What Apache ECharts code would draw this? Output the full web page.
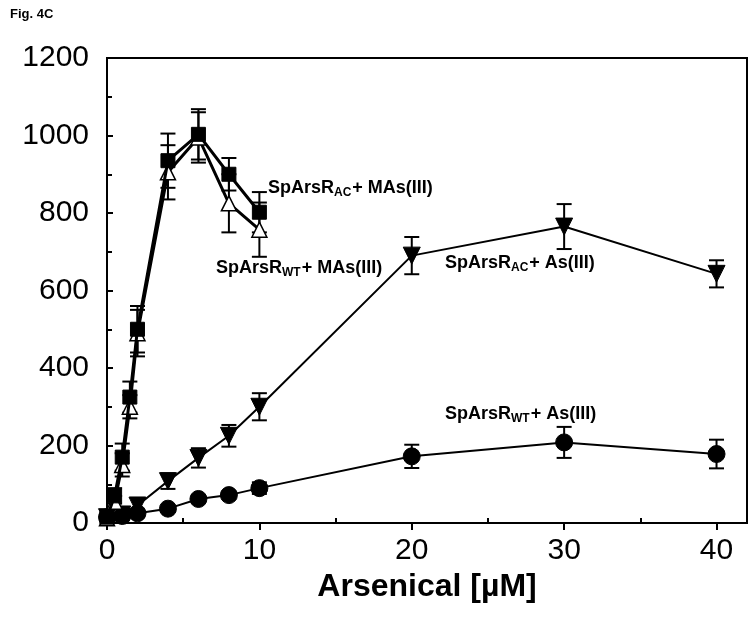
<!DOCTYPE html>
<html>
<head>
<meta charset="utf-8">
<script src="https://cdn.jsdelivr.net/npm/echarts@6/dist/echarts.min.js"></script>
<style>
html,body{margin:0;padding:0;background:#fff;}
#c{width:754px;height:631px;}
</style>
</head>
<body>
<div id="c"></div>
<script>
// ---- data ----
const xMAs = [0, 0.5, 1, 1.5, 2, 4, 6, 8, 10];
const acMAs = [15, 70, 170, 325, 500, 935, 1003, 900, 802];
const acMAsErr = [10, 20, 35, 40, 60, 70, 65, 42, 52];
const wtMAs = [12, 55, 150, 300, 490, 905, 995, 825, 757];
const wtMAsErr = [10, 15, 30, 30, 60, 70, 65, 75, 70];

const xAs = [0, 1, 2, 4, 6, 8, 10, 20, 30, 40];
const acAs = [15, 22, 45, 108, 168, 225, 300, 690, 765, 643];
const acAsErr = [10, 15, 20, 20, 25, 28, 35, 48, 58, 35];
const wtAs = [15, 18, 25, 37, 62, 72, 90, 172, 208, 178];
const wtAsErr = [8, 10, 10, 8, 10, 10, 15, 30, 40, 37];

const xTicks = [0, 10, 20, 30, 40];
const xMinorTicks = [5, 15, 25, 35];

const labelAcMAs = ['SpArsR', 'AC', '+ MAs(III)'];
const labelWtMAs = ['SpArsR', 'WT', '+ MAs(III)'];
const labelAcAs = ['SpArsR', 'AC', '+ As(III)'];
const labelWtAs = ['SpArsR', 'WT', '+ As(III)'];

// ---- helpers ----
function pts(xs, ys) { return xs.map((x, i) => [x, ys[i]]); }
function errPts(xs, ys, es) { return xs.map((x, i) => [x, ys[i], es[i]]); }

function errRender(params, api) {
  const x = api.value(0), y = api.value(1), e = api.value(2);
  const p = api.coord([x, y + e]);
  const q = api.coord([x, y - e]);
  const hw = 7.5;
  const st = { stroke: '#000', lineWidth: 2 };
  return {
    type: 'group',
    children: [
      { type: 'line', shape: { x1: p[0], y1: p[1], x2: q[0], y2: q[1] }, style: st },
      { type: 'line', shape: { x1: p[0] - hw, y1: p[1], x2: p[0] + hw, y2: p[1] }, style: st },
      { type: 'line', shape: { x1: q[0] - hw, y1: q[1], x2: q[0] + hw, y2: q[1] }, style: st }
    ]
  };
}

function errSeries(xs, ys, es) {
  return {
    type: 'custom', renderItem: errRender, data: errPts(xs, ys, es),
    z: 1, silent: true, clip: false,
    encode: { x: 0, y: 1 }
  };
}

const font = 'Liberation Sans, Arial, sans-serif';
const rich = {
  b: { fontSize: 18, fontWeight: 'bold', fontFamily: font, fill: '#000', lineHeight: 22 },
  s: { fontSize: 12, fontWeight: 'bold', fontFamily: font, fill: '#000', lineHeight: 12, verticalAlign: 'bottom', padding: [0, 1, 0, 0] }
};
function richLabel(parts, x, y) {
  return {
    type: 'text', x: x, y: y, z: 100,
    style: {
      text: '{b|' + parts[0] + '}{s|' + parts[1] + '}{b|' + parts[2] + '}',
      rich: rich, verticalAlign: 'middle', align: 'left'
    }
  };
}

const chart = echarts.init(document.getElementById('c'), null, { renderer: 'canvas' });

chart.setOption({
  animation: false,
  backgroundColor: '#fff',
  grid: { left: 107, top: 58, right: 7, bottom: 108, show: true, borderColor: '#000', borderWidth: 2, backgroundColor: 'transparent' },
  xAxis: [{
    type: 'value', min: 0, max: 42, interval: 10,
    axisLine: { show: true, lineStyle: { color: '#000', width: 2 } },
    axisTick: { show: true, inside: false, length: 7, lineStyle: { color: '#000', width: 2 }, customValues: xTicks },
    axisLabel: { color: '#000', fontSize: 30, fontFamily: font, margin: 13, customValues: xTicks },
    splitLine: { show: false },
    name: 'Arsenical [µM]', nameLocation: 'middle', nameGap: 39,
    nameTextStyle: { color: '#000', fontSize: 32, fontWeight: 'bold', fontFamily: font, verticalAlign: 'top' }
  }, {
    type: 'value', min: 0, max: 42, interval: 10, position: 'bottom',
    axisLine: { show: false },
    axisTick: { show: true, inside: true, length: 5, lineStyle: { color: '#000', width: 2 }, customValues: xMinorTicks },
    axisLabel: { show: false },
    splitLine: { show: false }
  }],
  yAxis: {
    type: 'value', min: 0, max: 1200, interval: 200,
    axisLine: { show: true, lineStyle: { color: '#000', width: 2 } },
    axisTick: { show: true, inside: true, length: 6, lineStyle: { color: '#000', width: 2 } },
    minorTick: { show: true, splitNumber: 2, length: 5, lineStyle: { color: '#000', width: 2 } },
    axisLabel: { color: '#000', fontSize: 30, fontFamily: font, margin: 18, formatter: v => String(v) },
    splitLine: { show: false }
  },
  graphic: [
    { type: 'text', x: 10, y: 14, style: { text: 'Fig. 4C', fontSize: 13, fontWeight: 'bold', fontFamily: font, fill: '#000', verticalAlign: 'middle' } },
    richLabel(labelAcMAs, 268, 188),
    richLabel(labelWtMAs, 216, 268),
    richLabel(labelAcAs, 445, 263),
    richLabel(labelWtAs, 445, 414)
  ],
  series: [
    errSeries(xAs, wtAs, wtAsErr),
    errSeries(xAs, acAs, acAsErr),
    errSeries(xMAs, wtMAs, wtMAsErr),
    errSeries(xMAs, acMAs, acMAsErr),
    {
      type: 'line', data: pts(xAs, wtAs), symbol: 'circle', symbolSize: 17, z: 3,
      lineStyle: { color: '#000', width: 2 }, itemStyle: { color: '#000', borderColor: '#000' }
    },
    {
      type: 'line', data: pts(xAs, acAs), symbol: 'triangle', symbolRotate: 180, symbolSize: 17, z: 3,
      lineStyle: { color: '#000', width: 2 }, itemStyle: { color: '#000', borderColor: '#000' }
    },
    {
      type: 'line', data: pts(xMAs, wtMAs), symbol: 'triangle', symbolSize: 15, z: 4,
      lineStyle: { color: '#000', width: 3 }, itemStyle: { color: '#fff', borderColor: '#000', borderWidth: 1.5 }
    },
    {
      type: 'line', data: pts(xMAs, acMAs), symbol: 'rect', symbolSize: 14, z: 5,
      lineStyle: { color: '#000', width: 3 }, itemStyle: { color: '#000', borderColor: '#000' }
    }
  ]
});
</script>
</body>
</html>
